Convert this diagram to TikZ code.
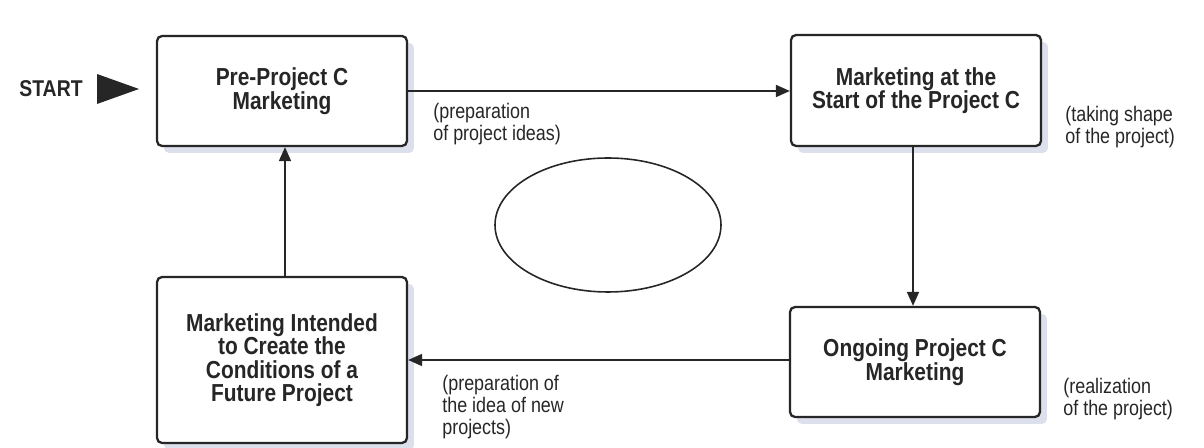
\documentclass[tikz,border=0pt]{standalone}
\usepackage{fontspec}
\setmainfont[FakeStretch=0.85]{Liberation Sans}
\usetikzlibrary{arrows.meta,shadows}
\definecolor{shadowblue}{HTML}{DCDFEC}
\definecolor{inkgray}{HTML}{262626}

\tikzset{
  stagebox/.style={draw=inkgray, line width=1.3pt, rounded corners=1mm, fill=white,
    minimum width=5cm, align=center, text=inkgray,
    font=\fontsize{14}{13.4}\selectfont\bfseries,
    drop shadow={shadow xshift=1.4mm, shadow yshift=-1.4mm, fill=shadowblue, opacity=1}},
  note/.style={anchor=north west, align=left, inner sep=0pt, text=inkgray,
    font=\fontsize{12}{12.5}\selectfont},
  flow/.style={-{Triangle[length=2.8mm,width=2.4mm]}, line width=1pt, draw=inkgray},
}

\begin{document}
\begin{tikzpicture}[x=0.02cm, y=-0.02cm]
    \useasboundingbox (0,0) rectangle (1204,448);

    % ===== START =====
    \node[text=inkgray, font=\fontsize{13}{13}\selectfont\bfseries] (startlbl) at (51,89) {START};
    \fill[inkgray] (97,74) -- (139,89) -- (97,104) -- cycle;

    % ===== STAGES =====
    \node[stagebox, minimum height=2.2cm] (pre) at (282,91) {Pre-Project C\\Marketing};
    \node[stagebox, minimum height=2.22cm] (begin) at (916,90.5) {Marketing at the\\Start of the Project C};
    \node[stagebox, minimum height=2.2cm] (ongoing) at (915,362) {Ongoing Project C\\Marketing};
    \node[stagebox, minimum height=3.32cm] (future) at (282,360) {Marketing Intended\\to Create the\\Conditions of a\\Future Project};

    % cycle
    \draw[flow] (pre.east) -- (pre.east -| begin.west);
    \draw[flow] (begin.south -| 913,0) -- (ongoing.north -| 913,0);
    \draw[flow] (ongoing.west |- 0,360) -- (future.east |- 0,360);
    \draw[flow] (future.north -| 285,0) -- (pre.south -| 285,0);

    % ellipse in the middle
    \draw[inkgray, line width=0.9pt] (608,225) ellipse [x radius=113, y radius=67];

    % ===== NOTES =====
    \node[note] (ideas) at (433,103) {(preparation\\of project ideas)};
    \node[note] (shape) at (1065,106) {(taking shape\\of the project)};
    \node[note] (real) at (1063,378) {(realization\\of the project)};
    \node[note] (newideas) at (442,375) {(preparation of\\the idea of new\\projects)};
\end{tikzpicture}
\end{document}
